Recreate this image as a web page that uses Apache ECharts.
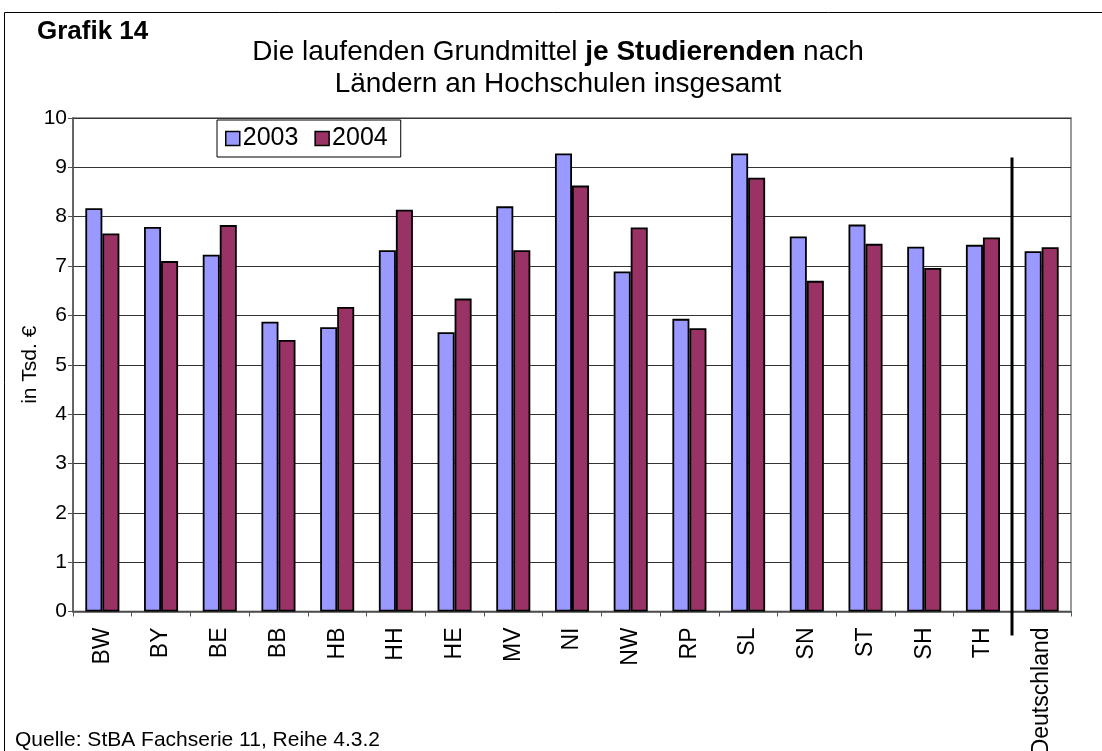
<!DOCTYPE html>
<html>
<head>
<meta charset="utf-8">
<script src="https://cdn.jsdelivr.net/npm/echarts@6/dist/echarts.min.js"></script>
<style>
  html, body { margin: 0; padding: 0; background: #fff; }
  #chart { width: 1102px; height: 751px; }
</style>
</head>
<body>
<div id="chart"></div>
<script>
// ========== Daten ==========
const laender = ['BW', 'BY', 'BE', 'BB', 'HB', 'HH', 'HE', 'MV', 'NI', 'NW', 'RP', 'SL', 'SN', 'ST', 'SH', 'TH', 'Deutschland'];
const werte2003 = [8.17, 7.79, 7.23, 5.87, 5.76, 7.32, 5.66, 8.21, 9.28, 6.89, 5.93, 9.28, 7.60, 7.84, 7.39, 7.43, 7.30];
const werte2004 = [7.66, 7.10, 7.83, 5.50, 6.17, 8.14, 6.34, 7.32, 8.63, 7.78, 5.74, 8.79, 6.70, 7.45, 6.96, 7.58, 7.38];
const jahre = ['2003', '2004'];
const farben = ['#9999FF', '#993366'];

const FONT = 'Liberation Sans, Arial, sans-serif';
const chart = echarts.init(document.getElementById('chart'), null, { renderer: 'canvas' });

const barStyle = (c) => ({ color: c, borderColor: '#000', borderWidth: 1.8 });

chart.setOption({
  backgroundColor: '#fff',
  animation: false,
  textStyle: { fontFamily: FONT, color: '#000' },
  title: [
    { text: 'Grafik 14', left: 32, top: 14, textStyle: { fontFamily: FONT, fontSize: 26, fontWeight: 'bold', color: '#000' } },
    {
      text: '{n|Die laufenden Grundmittel }{b|je Studierenden}{n| nach}\n{n|Ländern an Hochschulen insgesamt}',
      left: 553, top: 31, textAlign: 'center',
      textStyle: {
        fontWeight: 'normal',
        rich: {
          n: { fontFamily: FONT, fontSize: 28, fontWeight: 'normal', color: '#000', lineHeight: 32 },
          b: { fontFamily: FONT, fontSize: 28, fontWeight: 'bold', color: '#000', lineHeight: 32 }
        }
      }
    },
    { text: 'Quelle: StBA Fachserie 11, Reihe 4.3.2', left: 10, top: 725, textStyle: { fontFamily: FONT, fontSize: 21, fontWeight: 'normal', color: '#000' } }
  ],
  legend: {
    left: 217, top: 120,
    data: jahre,
    orient: 'horizontal',
    icon: 'rect',
    itemWidth: 14, itemHeight: 14, itemGap: 16,
    padding: [6, 13, 6, 8],
    borderColor: '#000', borderWidth: 1,
    textStyle: { fontFamily: FONT, fontSize: 25, color: '#000', padding: [0, 0, 0, -2] },
    itemStyle: { borderColor: '#000', borderWidth: 1.5 }
  },
  grid: {
    left: 73, right: 31, top: 118, bottom: 139.5,
    outerBoundsMode: 'none', containLabel: false,
    show: true, borderColor: '#999', borderWidth: 2, backgroundColor: 'transparent'
  },
  xAxis: {
    type: 'category',
    data: laender,
    axisLine: { lineStyle: { color: '#555', width: 1.5 } },
    axisTick: { show: true, alignWithLabel: false, length: 5, lineStyle: { color: '#555' } },
    axisLabel: { rotate: 90, fontFamily: FONT, fontSize: 23, color: '#000', margin: 16, interval: 0 }
  },
  yAxis: {
    type: 'value', min: 0, max: 10, interval: 1,
    name: 'in Tsd. €', nameLocation: 'middle', nameGap: 32, nameRotate: 90, nameMoveOverlap: false,
    nameTextStyle: { fontFamily: FONT, fontSize: 21, color: '#000' },
    axisLine: { show: true, lineStyle: { color: '#555', width: 1.5 } },
    axisTick: { show: true, length: 5, lineStyle: { color: '#555' } },
    axisLabel: { fontFamily: FONT, fontSize: 21, color: '#000', margin: 6 },
    splitLine: { lineStyle: { color: '#333', width: 1 } }
  },
  series: [
    { name: jahre[0], type: 'bar', data: werte2003, barGap: '0%', barCategoryGap: '42%', itemStyle: barStyle(farben[0]) },
    { name: jahre[1], type: 'bar', data: werte2004, itemStyle: barStyle(farben[1]) }
  ]
});

// ========== Trennlinie + Rahmen ==========
function drawDecor() {
  const n = laender.length;
  const xTH = chart.convertToPixel({ xAxisIndex: 0 }, laender[n - 2]);
  const xDE = chart.convertToPixel({ xAxisIndex: 0 }, laender[n - 1]);
  const xSep = Math.round((xTH + xDE) / 2);
  const yTop = chart.convertToPixel({ yAxisIndex: 0 }, 9.2);
  const y0 = chart.convertToPixel({ yAxisIndex: 0 }, 0);
  chart.setOption({
    graphic: [
      { type: 'line', shape: { x1: xSep, y1: yTop, x2: xSep, y2: y0 + 24 }, style: { stroke: '#000', lineWidth: 3 }, z: 10 },
      { type: 'rect', shape: { x: 4.5, y: 12.5, width: 1200, height: 1000 }, style: { fill: 'none', stroke: '#000', lineWidth: 1 }, z: 10, silent: true }
    ]
  });
}
drawDecor();
</script>
</body>
</html>
